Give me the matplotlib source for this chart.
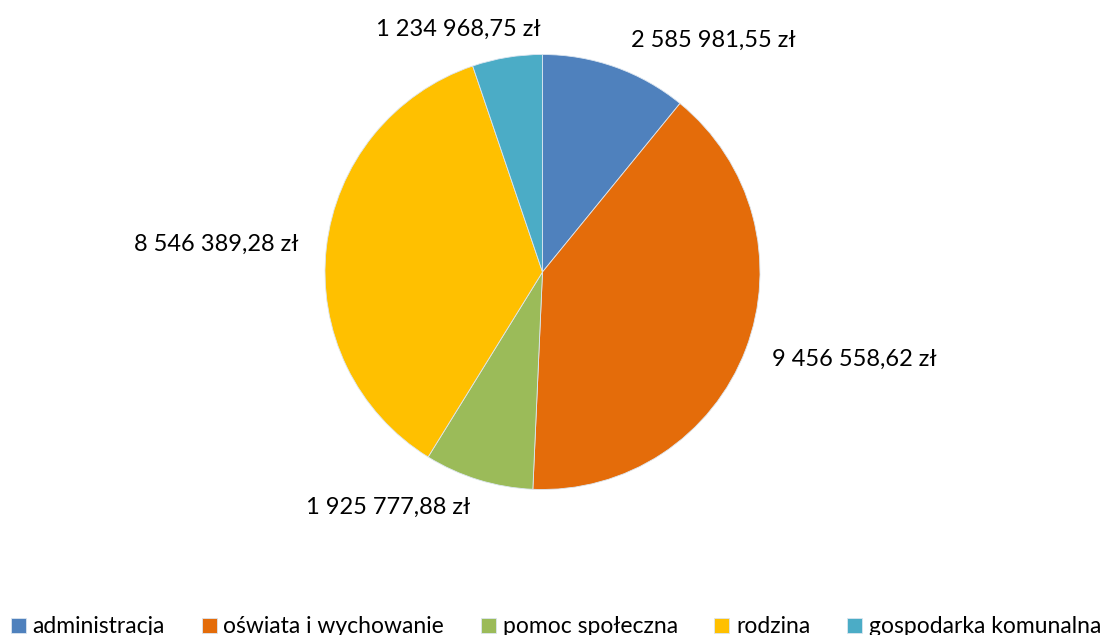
import matplotlib.pyplot as plt

# budget categories and amounts (zł)
categories = ["administracja", "oświata i wychowanie", "pomoc społeczna",
              "rodzina", "gospodarka komunalna"]
amounts = [2585981.55, 9456558.62, 1925777.88, 8546389.28, 1234968.75]
colors = ["#4F81BD", "#E46C0A", "#9BBB59", "#FFC000", "#4BACC6"]


def fmt_pln(v):
    s = "{:,.2f}".format(v)
    s = s.replace(",", " ").replace(".", ",")
    return s + " zł"


labels = [fmt_pln(v) for v in amounts]

plt.rcParams['font.family'] = ['Lato', 'DejaVu Sans']

fig = plt.figure(figsize=(11.01, 6.35), dpi=100)
ax = fig.add_axes([325 / 1101, 145.5 / 635, 435 / 1101, 435 / 635])

wedges, texts = ax.pie(amounts, labels=labels, colors=colors,
                       startangle=90, counterclock=False,
                       labeldistance=1.13,
                       wedgeprops=dict(edgecolor="#dce6f0", linewidth=0.6),
                       textprops=dict(fontsize=17, color="black"))
# small label above the pie sits right of where pie() puts it
texts[4].set_x(-0.01)
texts[0].set_x(texts[0].get_position()[0] + 0.03)
ax.set_xlim(-1, 1)
ax.set_ylim(-1, 1)
ax.set_aspect("equal")

fig.legend(wedges, categories, loc="lower center", ncol=5,
           bbox_to_anchor=(0.505, -0.036), frameon=False, fontsize=16.5,
           handlelength=0.65, handleheight=0.65, handletextpad=0.3,
           columnspacing=1.6)

fig.savefig("out.png", dpi=100)
